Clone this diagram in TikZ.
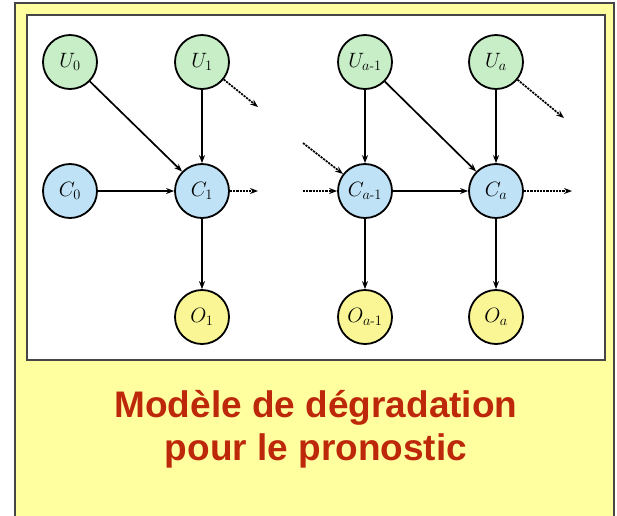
\documentclass[tikz,border=0pt]{standalone}
\usepackage{fontspec}
\usepackage{amsmath}
\newfontfamily\titlefont{Liberation Sans}
\usetikzlibrary{arrows.meta}
\definecolor{panelyellow}{RGB}{255,255,160}
\definecolor{frameline}{RGB}{70,70,70}
\definecolor{nodegreen}{RGB}{200,238,200}
\definecolor{nodeblue}{RGB}{192,226,246}
\definecolor{nodeyellow}{RGB}{250,246,150}
\definecolor{titlered}{RGB}{190,40,10}
\tikzset{
  var/.style={circle, draw=black, line width=1.8pt, minimum size=54pt, inner sep=0pt, font=\fontsize{20}{22}\selectfont},
  uvar/.style={var, fill=nodegreen},
  cvar/.style={var, fill=nodeblue},
  ovar/.style={var, fill=nodeyellow},
  link/.style={line width=1.7pt, -{Stealth[length=8pt,width=6pt]}},
  cont/.style={line width=1.7pt, dash pattern=on 2.2pt off 1pt, -{Stealth[length=8pt,width=6pt]}}
}
\begin{document}
\begin{tikzpicture}[x=1pt,y=-1pt]
\useasboundingbox (0,0) rectangle (617,515);
\fill[white] (0,0) rectangle (617,515);
% outer panel and inner white frame
\draw[frameline, line width=1.8pt, fill=panelyellow] (15,3) rectangle (614,540);
\draw[frameline, line width=1.5pt, fill=white] (27,15) rectangle (605,360);
% variables
\node[uvar] (u0) at (70,62) {$U_0$};
\node[uvar] (u1) at (202,62) {$U_1$};
\node[cvar] (c0) at (70,191) {$C_0$};
\node[cvar] (c1) at (202,191) {$C_1$};
\node[ovar] (o1) at (202,317) {$O_1$};
\node[uvar] (ua1) at (365,62) {$U_{a\text{-}1}$};
\node[uvar] (ua) at (496,62) {$U_a$};
\node[cvar] (ca1) at (365,191) {$C_{a\text{-}1}$};
\node[cvar] (ca) at (496,191) {$C_a$};
\node[ovar] (oa1) at (365,317) {$O_{a\text{-}1}$};
\node[ovar] (oa) at (496,317) {$O_a$};
% free ends of the continuation arrows
\coordinate (u1out) at (258,107);
\coordinate (c1out) at (258,191);
\coordinate (ua1in) at (303,143);
\coordinate (ca1in) at (303,191);
\coordinate (uaout) at (564,118);
\coordinate (caout) at (572,191);
% dependencies
\draw[link] (u0) -- (c1);
\draw[link] (u1) -- (c1);
\draw[link] (c0) -- (c1);
\draw[link] (c1) -- (o1);
\draw[link] (ua1) -- (ca1);
\draw[link] (ua1) -- (ca);
\draw[link] (ua) -- (ca);
\draw[link] (ca1) -- (ca);
\draw[link] (ca1) -- (oa1);
\draw[link] (ca) -- (oa);
% continuations
\draw[cont] (u1) -- (u1out);
\draw[cont] (c1) -- (c1out);
\draw[cont] (ua1in) -- (ca1);
\draw[cont] (ca1in) -- (ca1);
\draw[cont] (ua) -- (uaout);
\draw[cont] (ca) -- (caout);
% caption
\node[font=\titlefont\bfseries\fontsize{37}{43}\selectfont, text=titlered, align=center] (title) at (316,429) {Modèle de dégradation\\pour le pronostic};
\end{tikzpicture}
\end{document}
